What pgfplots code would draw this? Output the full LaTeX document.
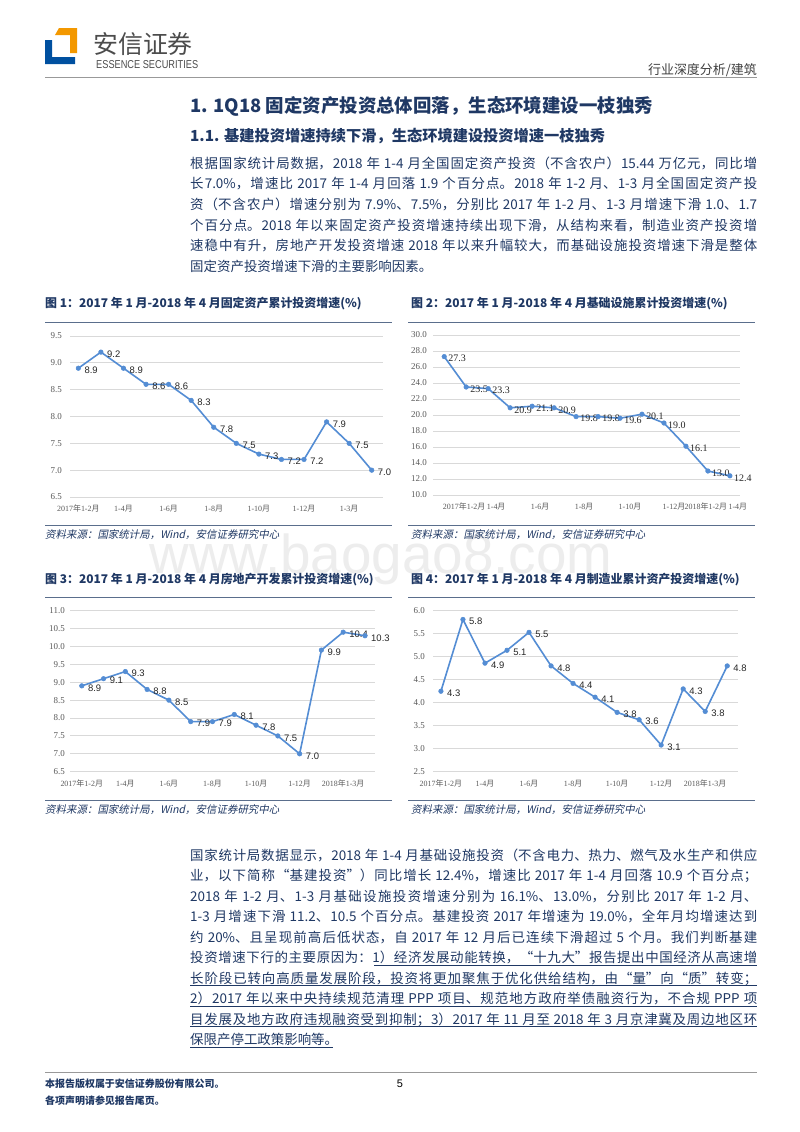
\documentclass[border=0pt]{standalone}
\usepackage{fontspec}
\usepackage{graphicx}
\usepackage{pgfplots}
\pgfplotsset{compat=1.18}
\setmainfont{Noto Sans CJK SC}
\newfontfamily\cjk{Noto Sans CJK SC}
\newfontfamily\cjkit{Noto Sans CJK SC}[FakeSlant=0.2]
\newfontfamily\tnr{Liberation Serif}
\newfontfamily\arial{Liberation Sans}
\XeTeXlinebreaklocale "zh"
\XeTeXlinebreakskip=0pt plus 1.5pt minus 0.3pt
\definecolor{navy}{RGB}{31,56,100}
\definecolor{lineblue}{RGB}{84,141,212}
\definecolor{gridc}{RGB}{217,217,217}
\definecolor{tickc}{RGB}{89,89,89}
\definecolor{rulec}{RGB}{90,110,140}
\definecolor{logoblue}{RGB}{0,80,160}
\definecolor{logoorange}{RGB}{243,152,0}
\newcommand\nian{{\cjk 年}}
\newcommand\yue{{\cjk 月}}
\tikzset{pg/.style={x=1bp,y=-1bp}}
\pgfplotsset{
  chart/.style={
    scale only axis, anchor=south west, clip=false,
    axis line style={draw=none}, tick style={draw=none}, major tick length=0pt,
    ymajorgrids, grid style={draw=gridc, line width=0.9bp},
    tick label style={text=tickc, inner sep=0pt},
    yticklabel style={anchor=east, font=\tnr\fontsize{9}{10}\selectfont},
    xticklabel style={anchor=north, font=\tnr\fontsize{8}{9}\selectfont},
    yticklabel={\pgfmathprintnumber[fixed,fixed zerofill,precision=1,assume math mode=true]{\tick}},
  },
  series/.style={draw=lineblue, line width=1.6bp, mark=*, mark size=2.3bp,
    mark options={fill=lineblue, draw=lineblue, line width=0.5bp},
    nodes near coords, point meta=explicit symbolic},
}
\begin{document}
\begin{tikzpicture}
\begin{scope}[pg]
\path[use as bounding box, fill=white] (0,0) rectangle (800,1132);
% watermark
\node[anchor=base, text=black!7, font=\arial\fontsize{55}{55}\selectfont, inner sep=0] at (381,573) {www.baogao8.com};
% logo
\fill[logoblue] (45,40) -- (52,40) -- (52,57) -- (75,57) -- (75,64) -- (45,64) -- cycle;
\fill[logoorange] (59,28) -- (77,28) -- (77,53) -- (70,53) -- (70,35) -- (55,35) -- cycle;
\node[anchor=west, inner sep=0, text=black!70, font=\fontsize{25}{25}\selectfont] at (93,44) {安信证券};
\node[anchor=west, inner sep=0, text=black!70] at (96,65) {\resizebox{102bp}{8bp}{\arial ESSENCE SECURITIES}};
\node[anchor=east, inner sep=0, text=black!75, font=\fontsize{13}{13}\selectfont] at (757,70) {行业深度分析/建筑};
\draw[black!40, line width=1.2bp] (45,77.5) -- (757,77.5);
% headings
\node[anchor=west, inner sep=0, text=navy, font=\fontsize{18.5}{20}\selectfont\bfseries] at (190,106) {1. 1Q18 固定资产投资总体回落，生态环境建设一枝独秀};
\node[anchor=west, inner sep=0, text=navy, font=\fontsize{15.3}{18}\selectfont\bfseries] at (190,136) {1.1. 基建投资增速持续下滑，生态环境建设投资增速一枝独秀};
% paragraph 1
\node[anchor=base west, inner sep=0, text=navy] at (190,168) {\parbox[t]{567bp}{\fontsize{13.5}{20.8}\selectfont\hbadness=10000
根据国家统计局数据，2018 年 1-4 月全国固定资产投资（不含农户）15.44 万亿元，同比增\linebreak
长7.0\%，增速比 2017 年 1-4 月回落 1.9 个百分点。2018 年 1-2 月、1-3 月全国固定资产投\linebreak
资（不含农户）增速分别为 7.9\%、7.5\%，分别比 2017 年 1-2 月、1-3 月增速下滑 1.0、1.7\linebreak
个百分点。2018 年以来固定资产投资增速持续出现下滑，从结构来看，制造业资产投资增\linebreak
速稳中有升，房地产开发投资增速 2018 年以来升幅较大，而基础设施投资增速下滑是整体\linebreak
固定资产投资增速下滑的主要影响因素。}};
% chart titles, rules, sources
\node[anchor=west, inner sep=0, text=navy, font=\fontsize{12}{14}\selectfont\bfseries] at (45,304) {图 1：2017 年 1 月-2018 年 4 月固定资产累计投资增速(\%)};
\node[anchor=west, inner sep=0, text=navy, font=\fontsize{12}{14}\selectfont\bfseries] at (411,304) {图 2：2017 年 1 月-2018 年 4 月基础设施累计投资增速(\%)};
\node[anchor=west, inner sep=0, text=navy, font=\fontsize{12}{14}\selectfont\bfseries] at (45,580) {图 3：2017 年 1 月-2018 年 4 月房地产开发累计投资增速(\%)};
\node[anchor=west, inner sep=0, text=navy, font=\fontsize{12}{14}\selectfont\bfseries] at (411,580) {图 4：2017 年 1 月-2018 年 4 月制造业累计资产投资增速(\%)};
\foreach \yy in {322,525,597,800} {
  \draw[rulec, line width=0.9bp] (45,\yy) -- (392,\yy);
  \draw[rulec, line width=0.9bp] (408,\yy) -- (755,\yy);
}
\foreach \xx/\yy in {45/535,411/535,45/810,411/810} {
  \node[anchor=west, inner sep=0, text=navy, font=\cjkit\fontsize{10.5}{12}\selectfont] at (\xx,\yy) {资料来源：国家统计局，Wind，安信证券研究中心};
}
% paragraph 2
\node[anchor=base west, inner sep=0, text=navy] at (190,860) {\parbox[t]{567bp}{\fontsize{13.5}{20.6}\selectfont\hbadness=10000
国家统计局数据显示，2018 年 1-4 月基础设施投资（不含电力、热力、燃气及水生产和供应\linebreak
业，以下简称“基建投资”）同比增长 12.4\%，增速比 2017 年 1-4 月回落 10.9 个百分点；\linebreak
2018 年 1-2 月、1-3 月基础设施投资增速分别为 16.1\%、13.0\%，分别比 2017 年 1-2 月、\linebreak
1-3 月增速下滑 11.2、10.5 个百分点。基建投资 2017 年增速为 19.0\%，全年月均增速达到\linebreak
约 20\%、且呈现前高后低状态，自 2017 年 12 月后已连续下滑超过 5 个月。我们判断基建\linebreak
投资增速下行的主要原因为：1）经济发展动能转换，“十九大”报告提出中国经济从高速增\linebreak
长阶段已转向高质量发展阶段，投资将更加聚焦于优化供给结构，由“量”向“质”转变；\linebreak
2）2017 年以来中央持续规范清理 PPP 项目、规范地方政府举债融资行为，不合规 PPP 项\linebreak
目发展及地方政府违规融资受到抑制；3）2017 年 11 月至 2018 年 3 月京津冀及周边地区环\linebreak
保限产停工政策影响等。}};
\draw[navy, line width=0.8bp] (374,965) -- (757,965);
\draw[navy, line width=0.8bp] (190,985.6) -- (757,985.6);
\draw[navy, line width=0.8bp] (190,1006.2) -- (757,1006.2);
\draw[navy, line width=0.8bp] (190,1026.8) -- (757,1026.8);
\draw[navy, line width=0.8bp] (190,1047.4) -- (333,1047.4);
% footer
\draw[black!40, line width=1bp] (45,1072) -- (757,1072);
\node[anchor=west, inner sep=0, text=navy, font=\fontsize{10}{12}\selectfont\bfseries] at (45,1084) {本报告版权属于安信证券股份有限公司。};
\node[anchor=west, inner sep=0, text=navy, font=\fontsize{10}{12}\selectfont\bfseries] at (45,1101) {各项声明请参见报告尾页。};
\node[inner sep=0, font=\arial\fontsize{11}{12}\selectfont] at (400,1084) {5};
\end{scope}

% Chart 1
\begin{axis}[chart, at={(70bp,-497bp)}, width=313bp, height=161bp,
  xmin=-0.37, xmax=13.5, ymin=6.5, ymax=9.5, ytick={6.5,7,7.5,8,8.5,9,9.5},
  xtick={0,2,4,6,8,10,12},
  xticklabels={2017\nian1-2\yue,1-4\yue,1-6\yue,1-8\yue,1-10\yue,1-12\yue,1-3\yue},
  yticklabel style={xshift=-8bp}, xticklabel style={yshift=-8bp}]
\addplot[series, every node near coord/.append style={anchor=west, inner sep=0pt, xshift=6bp, yshift=-2bp, font=\arial\fontsize{9.5}{10}\selectfont, text=black!85}]
 table[x=x,y=y,meta=l] {
x y l
0 8.9 8.9
1 9.2 9.2
2 8.9 8.9
3 8.6 8.6
4 8.6 8.6
5 8.3 8.3
6 7.8 7.8
7 7.5 7.5
8 7.3 7.3
9 7.2 7.2
10 7.2 7.2
11 7.9 7.9
12 7.5 7.5
13 7.0 7.0
};
\end{axis}

% Chart 2
\begin{axis}[chart, at={(433bp,-495bp)}, width=307bp, height=160bp,
  xmin=-0.51, xmax=13.46, ymin=10, ymax=30, ytick={10,12,14,16,18,20,22,24,26,28,30},
  xtick={0,2,4,6,8,10,11,13},
  xticklabels={2017\nian1-2\yue,1-4\yue,1-6\yue,1-8\yue,1-10\yue,1-12\yue,2018\nian1-2\yue,1-4\yue},
  yticklabel style={xshift=-6bp}, xticklabel style={anchor=north west, xshift=-1.5bp, yshift=-8bp}]
\addplot[series, every node near coord/.append style={anchor=west, inner sep=0pt, xshift=4bp, yshift=-2bp, font=\tnr\fontsize{10}{11}\selectfont, text=black!85}]
 table[x=x,y=y,meta=l] {
x y l
0 27.3 27.3
1 23.5 23.5
2 23.3 23.3
3 20.9 20.9
4 21.1 21.1
5 20.9 20.9
6 19.8 19.8
7 19.8 19.8
8 19.6 19.6
9 20.1 20.1
10 19.0 19.0
11 16.1 16.1
12 13.0 13.0
13 12.4 12.4
};
\end{axis}

% Chart 3
\begin{axis}[chart, at={(70bp,-771.7bp)}, width=305bp, height=161bp,
  xmin=-0.54, xmax=13.46, ymin=6.5, ymax=11, ytick={6.5,7,7.5,8,8.5,9,9.5,10,10.5,11},
  xtick={0,2,4,6,8,10,12},
  xticklabels={2017\nian1-2\yue,1-4\yue,1-6\yue,1-8\yue,1-10\yue,1-12\yue,2018\nian1-3\yue},
  yticklabel style={xshift=-5bp}, xticklabel style={yshift=-8bp}]
\addplot[series, every node near coord/.append style={anchor=west, inner sep=0pt, xshift=6bp, yshift=-2bp, font=\arial\fontsize{9.5}{10}\selectfont, text=black!85}]
 table[x=x,y=y,meta=l] {
x y l
0 8.9 8.9
1 9.1 9.1
2 9.3 9.3
3 8.8 8.8
4 8.5 8.5
5 7.9 7.9
6 7.9 7.9
7 8.1 8.1
8 7.8 7.8
9 7.5 7.5
10 7.0 7.0
11 9.9 9.9
12 10.4 10.4
13 10.3 10.3
};
\end{axis}

% Chart 4
\begin{axis}[chart, at={(433bp,-771.7bp)}, width=305bp, height=161bp,
  xmin=-0.36, xmax=13.49, ymin=2.5, ymax=6, ytick={2.5,3,3.5,4,4.5,5,5.5,6},
  xtick={0,2,4,6,8,10,12},
  xticklabels={2017\nian1-2\yue,1-4\yue,1-6\yue,1-8\yue,1-10\yue,1-12\yue,2018\nian1-3\yue},
  yticklabel style={xshift=-8bp}, xticklabel style={yshift=-8bp}]
\addplot[series, every node near coord/.append style={anchor=west, inner sep=0pt, xshift=6bp, yshift=-2bp, font=\arial\fontsize{9.5}{10}\selectfont, text=black!85}]
 table[x=x,y=y,meta=l] {
x y l
0 4.25 4.3
1 5.81 5.8
2 4.86 4.9
3 5.14 5.1
4 5.53 5.5
5 4.80 4.8
6 4.42 4.4
7 4.12 4.1
8 3.79 3.8
9 3.63 3.6
10 3.08 3.1
11 4.30 4.3
12 3.81 3.8
13 4.80 4.8
};
\end{axis}
\end{tikzpicture}
\end{document}
